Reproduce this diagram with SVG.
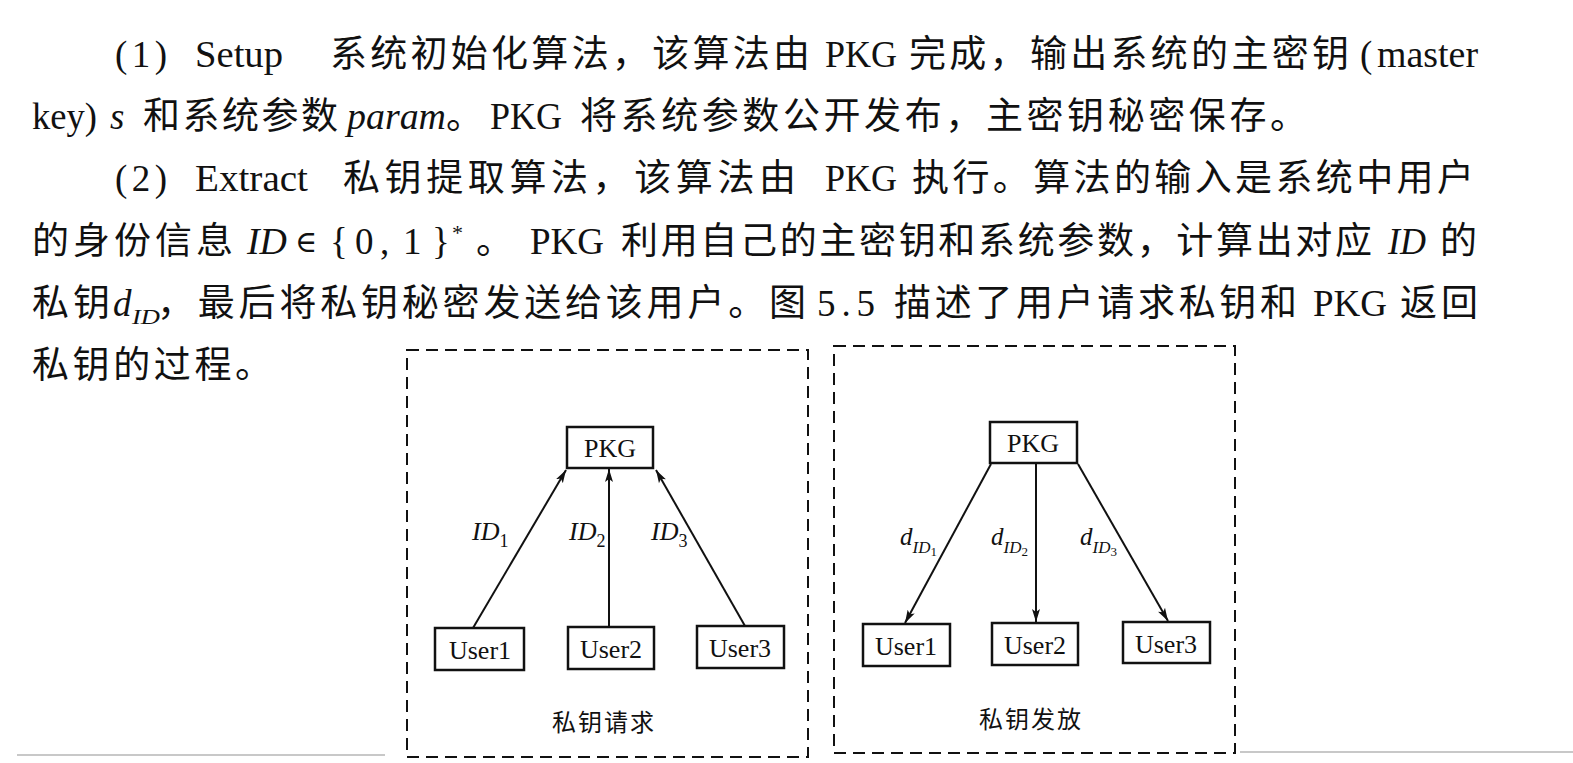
<svg xmlns="http://www.w3.org/2000/svg" width="1573" height="763" viewBox="0 0 1573 763">
<style>
  .t { font-family: "Liberation Serif", "Noto Sans CJK SC", serif; font-size: 37px; fill: #111; }
  .i { font-style: italic; }
  .box { fill: none; stroke: #111; stroke-width: 2.5; }
  .frame { fill: none; stroke: #111; stroke-width: 2; stroke-dasharray: 12 7; }
  .lbl { font-family: "Liberation Serif", "Noto Sans CJK SC", serif; font-size: 26px; fill: #111; text-anchor: middle; }
  .cap { font-family: "Noto Sans CJK SC", sans-serif; font-size: 24px; fill: #111; text-anchor: middle; letter-spacing: 2px; }
  .edge { stroke: #111; stroke-width: 2; fill: none; marker-end: url(#ah); }
  .math { font-family: "Liberation Serif", "DejaVu Serif", serif; font-size: 37px; fill: #111; }
  .el { font-family: "Liberation Serif", serif; font-style: italic; fill: #111; font-size: 26px; }
  .dl { font-family: "Liberation Serif", serif; font-style: italic; fill: #111; font-size: 25px; }
  .sep { stroke: #c8c8c8; stroke-width: 2; }
</style>
<defs>
  <marker id="ah" markerWidth="14" markerHeight="10" refX="13" refY="5" orient="auto" markerUnits="userSpaceOnUse">
    <path d="M0,1 L13,5 L0,9 L3,5 Z" fill="#111"/>
  </marker>
</defs>
<rect width="1573" height="763" fill="#ffffff"/>

<g id="body-text">
  <!-- line 1 -->
  <text class="t" x="115" y="67" textLength="52" lengthAdjust="spacing">(1)</text>
  <text class="t" x="195" y="67" textLength="88" lengthAdjust="spacingAndGlyphs">Setup</text>
  <text class="t" x="330" y="67" textLength="480" lengthAdjust="spacing">系统初始化算法，该算法由</text>
  <text class="t" x="825" y="67" textLength="72" lengthAdjust="spacingAndGlyphs">PKG</text>
  <text class="t" x="909" y="67" textLength="440" lengthAdjust="spacing">完成，输出系统的主密钥</text>
  <text class="t" x="1360" y="67">(</text>
  <text class="t" x="1377" y="67" textLength="101" lengthAdjust="spacingAndGlyphs">master</text>
  <!-- line 2 -->
  <text class="t" x="32" y="129" textLength="65" lengthAdjust="spacingAndGlyphs">key)</text>
  <text class="t i" x="110" y="129">s</text>
  <text class="t" x="143" y="129" textLength="195" lengthAdjust="spacing">和系统参数</text>
  <text class="t i" x="347" y="129" textLength="99" lengthAdjust="spacingAndGlyphs">param</text>
  <text class="t" x="446" y="129">。</text>
  <text class="t" x="490" y="129" textLength="72" lengthAdjust="spacingAndGlyphs">PKG</text>
  <text class="t" x="580" y="129" textLength="727" lengthAdjust="spacing">将系统参数公开发布，主密钥秘密保存。</text>
  <!-- line 3 -->
  <text class="t" x="115" y="191" textLength="52" lengthAdjust="spacing">(2)</text>
  <text class="t" x="195" y="191" textLength="113" lengthAdjust="spacingAndGlyphs">Extract</text>
  <text class="t" x="343" y="191" textLength="453" lengthAdjust="spacing">私钥提取算法，该算法由</text>
  <text class="t" x="825" y="191" textLength="72" lengthAdjust="spacingAndGlyphs">PKG</text>
  <text class="t" x="912" y="191" textLength="562" lengthAdjust="spacing">执行。算法的输入是系统中用户</text>
  <!-- line 4 -->
  <text class="t" x="32" y="254" textLength="201" lengthAdjust="spacing">的身份信息</text>
  <text class="t i" x="247" y="254" textLength="40" lengthAdjust="spacingAndGlyphs">ID</text>
  <text class="math" x="295" y="252" style="font-size:30px">∈</text>
  <text class="math" x="330 355 380 403 432" y="254">{0,1}</text>
  <text class="math" x="452" y="240" style="font-size:22px">*</text>
  <text class="t" x="476" y="254">。</text>
  <text class="t" x="530" y="254" textLength="74" lengthAdjust="spacingAndGlyphs">PKG</text>
  <text class="t" x="621" y="254" textLength="751" lengthAdjust="spacing">利用自己的主密钥和系统参数，计算出对应</text>
  <text class="t i" x="1388" y="254" textLength="38" lengthAdjust="spacingAndGlyphs">ID</text>
  <text class="t" x="1440" y="254">的</text>
  <!-- line 5 -->
  <text class="t" x="32" y="316" textLength="78" lengthAdjust="spacing">私钥</text>
  <text class="t i" x="113" y="316">d</text>
  <text class="t i" x="132" y="324" style="font-size:20px" textLength="28" lengthAdjust="spacingAndGlyphs">ID</text>
  <text class="t" x="157" y="316" textLength="649" lengthAdjust="spacing">，最后将私钥秘密发送给该用户。图</text>
  <text class="t" x="817" y="316" textLength="58" lengthAdjust="spacing">5.5</text>
  <text class="t" x="894" y="316" textLength="403" lengthAdjust="spacing">描述了用户请求私钥和</text>
  <text class="t" x="1313" y="316" textLength="74" lengthAdjust="spacingAndGlyphs">PKG</text>
  <text class="t" x="1400" y="316" textLength="78" lengthAdjust="spacing">返回</text>
  <!-- line 6 -->
  <text class="t" x="32" y="378" textLength="240" lengthAdjust="spacing">私钥的过程。</text>
</g>

<g id="page-rules">
  <line class="sep" x1="17" y1="755" x2="385" y2="755"/>
  <line class="sep" x1="1240" y1="752" x2="1573" y2="752"/>
</g>

<g id="frame-request">
  <rect class="frame" x="407" y="350" width="401" height="407"/>
  <text class="cap" x="604" y="731">私钥请求</text>
</g>
<g id="frame-issue">
  <rect class="frame" x="834" y="346" width="401" height="407"/>
  <text class="cap" x="1031" y="728">私钥发放</text>
</g>

<g id="req-pkg">
  <rect class="box" x="567" y="427" width="86" height="41"/>
  <text class="lbl" x="610" y="457">PKG</text>
</g>
<g id="req-user1">
  <rect class="box" x="435" y="628" width="89" height="42"/>
  <text class="lbl" x="480" y="659">User1</text>
</g>
<g id="req-user2">
  <rect class="box" x="568" y="627" width="86" height="42"/>
  <text class="lbl" x="611" y="658">User2</text>
</g>
<g id="req-user3">
  <rect class="box" x="697" y="626" width="87" height="42"/>
  <text class="lbl" x="740" y="657">User3</text>
</g>

<g id="iss-pkg">
  <rect class="box" x="990" y="422" width="87" height="41"/>
  <text class="lbl" x="1033" y="452">PKG</text>
</g>
<g id="iss-user1">
  <rect class="box" x="863" y="624" width="87" height="42"/>
  <text class="lbl" x="906" y="655">User1</text>
</g>
<g id="iss-user2">
  <rect class="box" x="992" y="623" width="86" height="42"/>
  <text class="lbl" x="1035" y="654">User2</text>
</g>
<g id="iss-user3">
  <rect class="box" x="1123" y="622" width="87" height="41"/>
  <text class="lbl" x="1166" y="653">User3</text>
</g>

<g id="connectors">
  <line class="edge" x1="473" y1="628" x2="566" y2="470"/>
  <line class="edge" x1="609" y1="627" x2="609" y2="469"/>
  <line class="edge" x1="745" y1="626" x2="656" y2="470"/>
  <line class="edge" x1="991" y1="464" x2="905" y2="623"/>
  <line class="edge" x1="1036" y1="464" x2="1036" y2="622"/>
  <line class="edge" x1="1078" y1="464" x2="1168" y2="621"/>

  <text class="el" x="472" y="540">ID<tspan font-style="normal" font-size="18" dy="7">1</tspan></text>
  <text class="el" x="569" y="540">ID<tspan font-style="normal" font-size="18" dy="7">2</tspan></text>
  <text class="el" x="651" y="540">ID<tspan font-style="normal" font-size="18" dy="7">3</tspan></text>

  <text class="dl" x="900" y="545">d<tspan font-size="17" dy="8">ID</tspan><tspan font-style="normal" font-size="13" dy="3">1</tspan></text>
  <text class="dl" x="991" y="545">d<tspan font-size="17" dy="8">ID</tspan><tspan font-style="normal" font-size="13" dy="3">2</tspan></text>
  <text class="dl" x="1080" y="545">d<tspan font-size="17" dy="8">ID</tspan><tspan font-style="normal" font-size="13" dy="3">3</tspan></text>
</g>
</svg>
